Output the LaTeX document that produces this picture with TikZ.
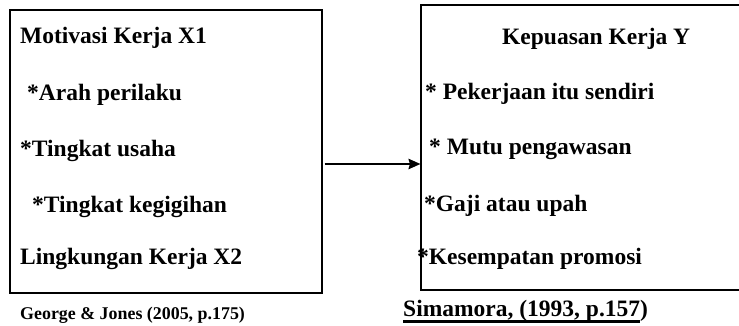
\documentclass[tikz,border=0pt]{standalone}
\usepackage{fontspec}
\setmainfont{Liberation Serif}
\usetikzlibrary{arrows.meta}

\newcommand\thickul[1]{\vtop{\hbox{\smash{#1}}\kern4pt\hrule height 2.6pt}}

\begin{document}
\begin{tikzpicture}[x=1pt,y=-1pt,
    box/.style={draw,line width=1.1pt,inner sep=0pt},
    lbl/.style={anchor=base west,inner sep=0pt,font=\fontsize{23.5}{28}\selectfont\bfseries},
    cite/.style={anchor=base west,inner sep=0pt,font=\fontsize{17.9}{22}\selectfont\bfseries}]

    \clip (0,0) rectangle (739,326);

    % the two boxes
    \node[box,minimum width=312pt,minimum height=283pt] (motivasi) at (166,151.5) {};
    \node[box,minimum width=339pt,minimum height=285pt] (kepuasan) at (590.5,147.5) {};

    % left box
    \node[lbl] (x1) at (20,44) {Motivasi Kerja X1};
    \node[lbl] (arah) at (27,101) {*Arah perilaku};
    \node[lbl] (usaha) at (20,157) {*Tingkat usaha};
    \node[lbl] (gigih) at (32,212) {*Tingkat kegigihan};
    \node[lbl] (x2) at (20,264) {Lingkungan Kerja X2};
    \node[cite] (george) at (20,319) {George \& Jones (2005, p.175)};

    % right box
    \node[lbl] (y) at (502,45) {Kepuasan Kerja Y};
    \node[lbl] (kerja) at (425,100) {* Pekerjaan itu sendiri};
    \node[lbl] (mutu) at (429,155) {* Mutu pengawasan};
    \node[lbl] (gaji) at (424,211) {*Gaji atau upah};
    \node[lbl] (promosi) at (417,264) {*Kesempatan promosi};
    \node[lbl] (simamora) at (403,316) {\thickul{Simamora, (1993, p.157})};

    \draw[line width=1.4pt,-{Stealth[length=12pt,width=10.5pt,inset=1.5pt]}]
        ([xshift=2pt]motivasi.east |- 0,164) -- (kepuasan.west |- 0,164);

\end{tikzpicture}
\end{document}
